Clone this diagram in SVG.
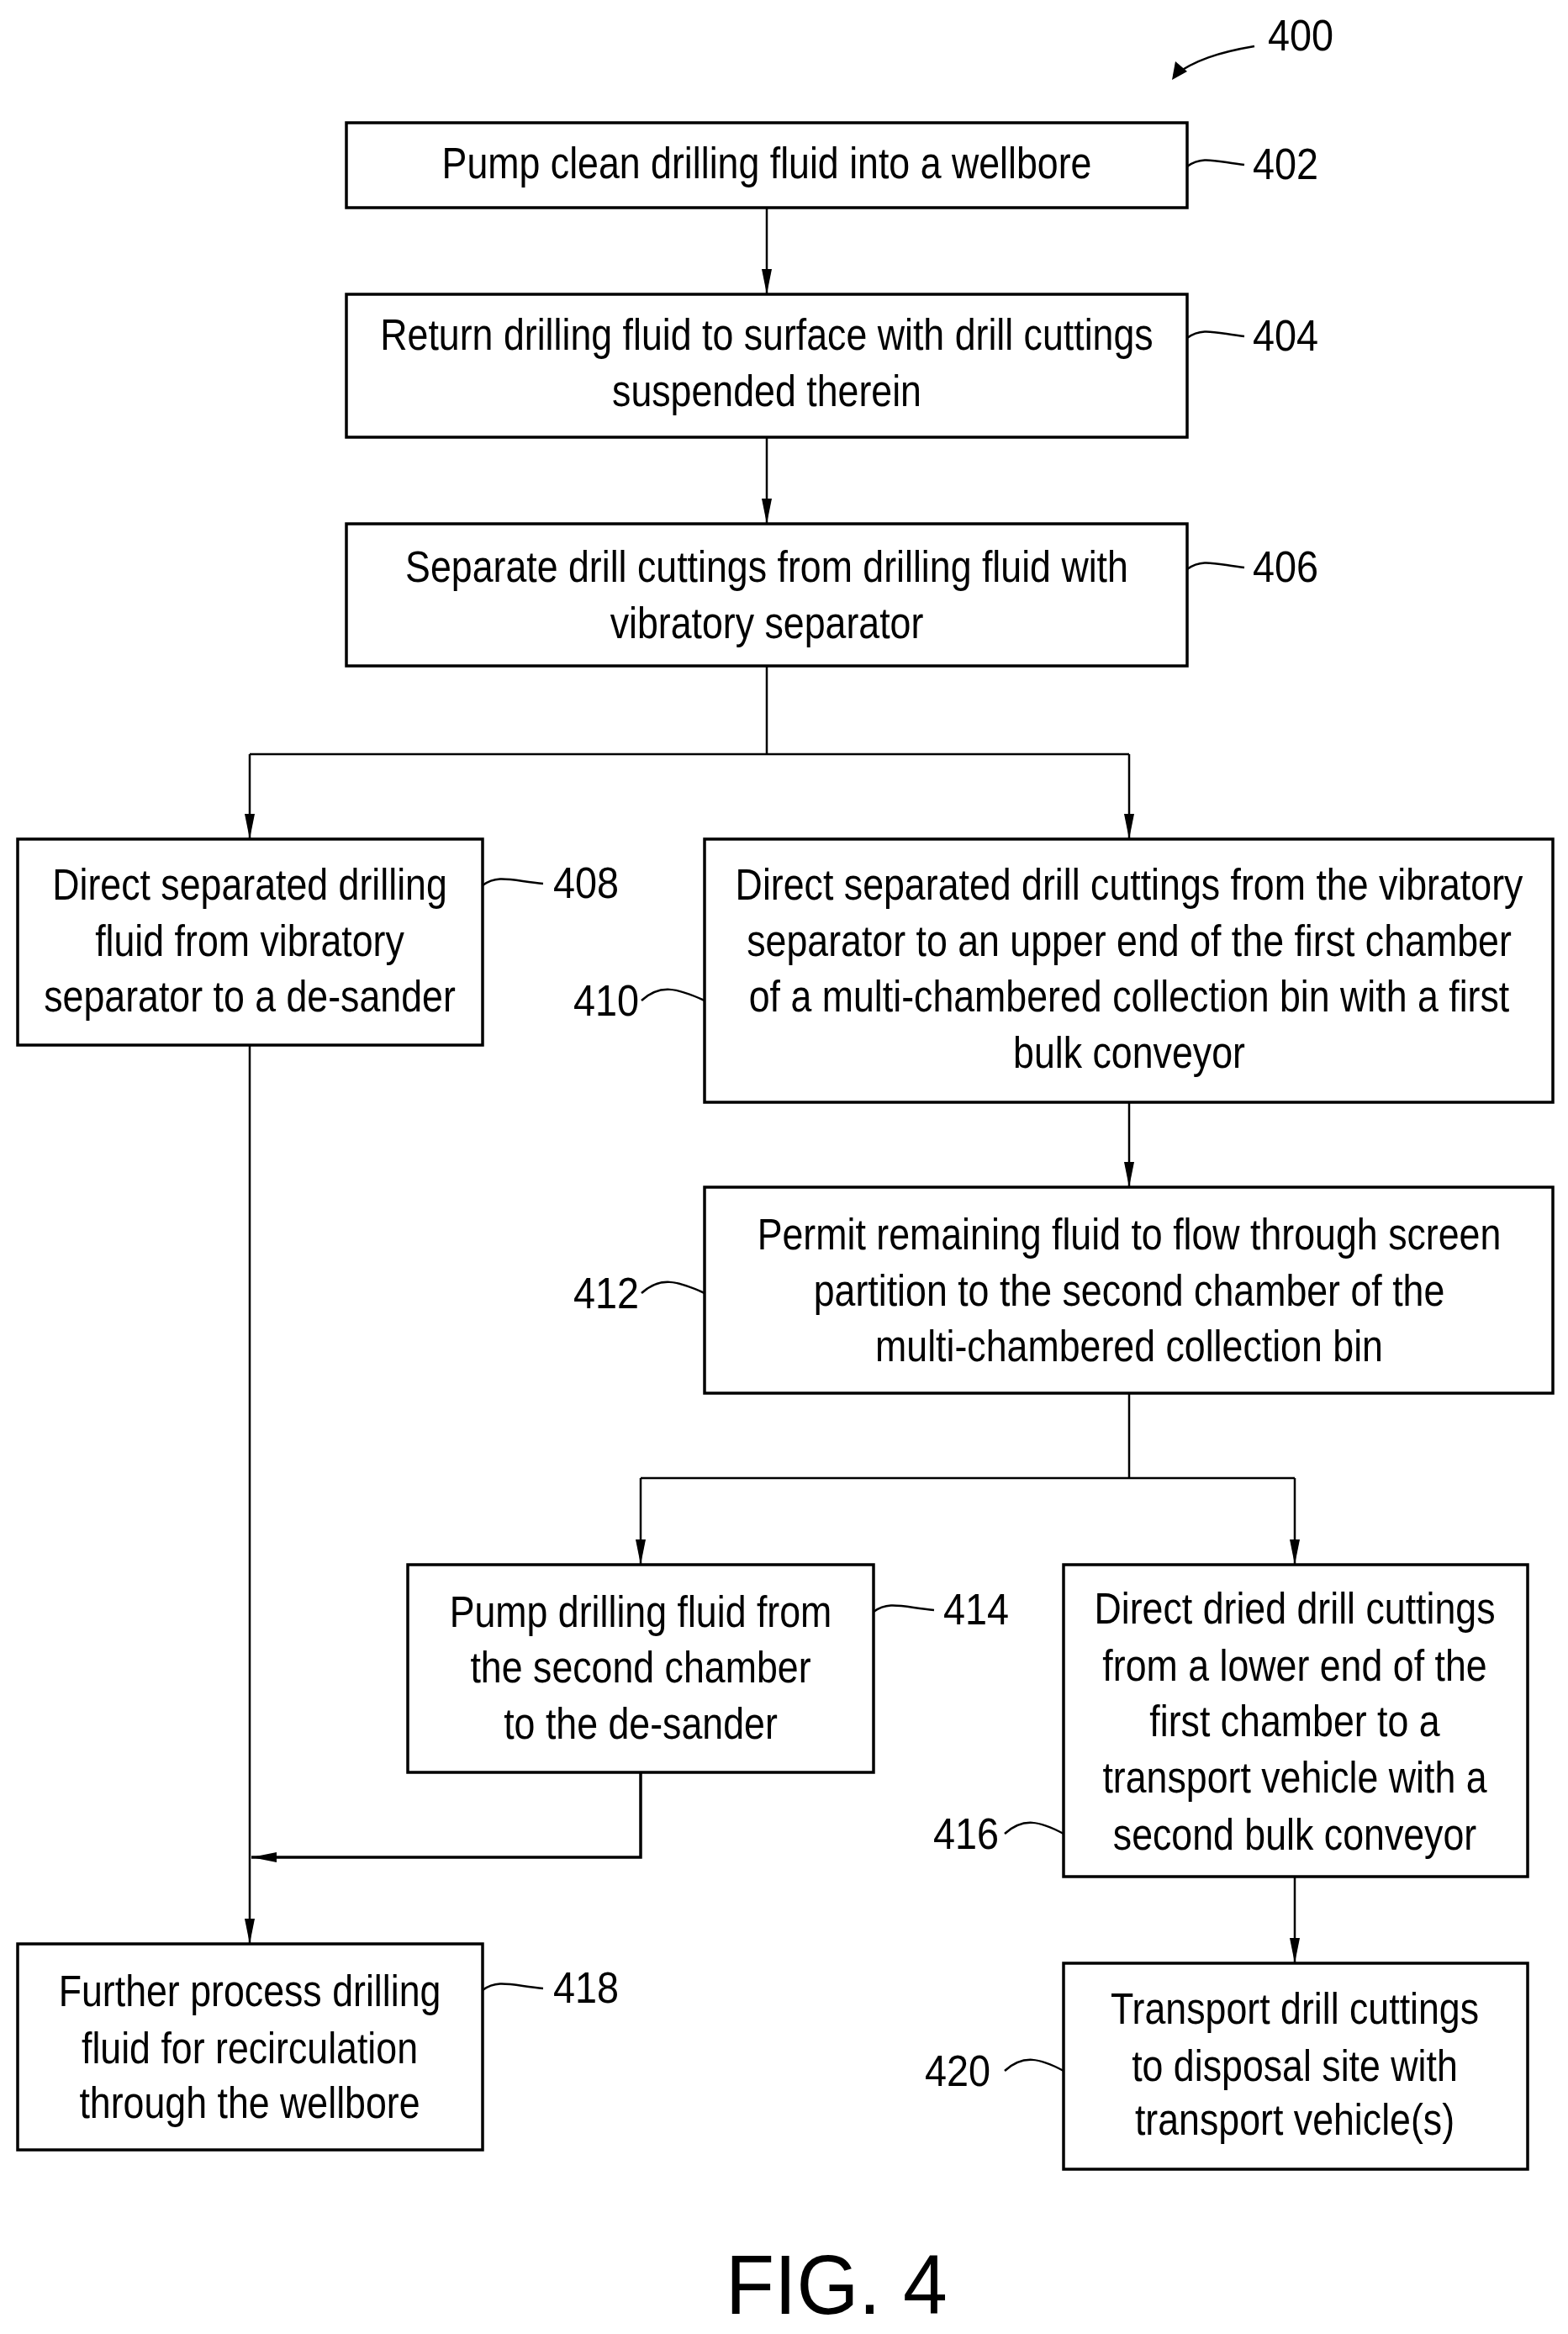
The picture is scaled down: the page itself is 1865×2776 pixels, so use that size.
<svg xmlns="http://www.w3.org/2000/svg" width="1865" height="2776" viewBox="0 0 1865 2776">
<style>
rect{fill:#fff;stroke:#000;stroke-width:3.5}
.c{fill:none;stroke:#000;stroke-width:2.5}
.t{font-family:"Liberation Sans",Arial,sans-serif;font-size:52px;fill:#000;text-anchor:middle}
.l{font-family:"Liberation Sans",Arial,sans-serif;font-size:52px;fill:#000}
.s{fill:none;stroke:#000;stroke-width:2.5}
</style>
<defs>
<marker id="b" viewBox="0 0 30 12" refX="30" refY="6" markerWidth="30" markerHeight="12" orient="auto" markerUnits="userSpaceOnUse"><path d="M0,0 L30,6 L0,12 Z" fill="#000"/></marker>
</defs>
<g id="connectors">
<path class="c" d="M912,247 V350" marker-end="url(#b)"/>
<path class="c" d="M912,520 V623" marker-end="url(#b)"/>
<path class="c" d="M912,792 V897 M297,897 H1343"/>
<path class="c" d="M297,897 V998" marker-end="url(#b)"/>
<path class="c" d="M1343,897 V998" marker-end="url(#b)"/>
<path class="c" d="M1343,1311 V1412" marker-end="url(#b)"/>
<path class="c" d="M1343,1657 V1758 M762,1758 H1540"/>
<path class="c" d="M762,1758 V1861" marker-end="url(#b)"/>
<path class="c" d="M1540,1758 V1861" marker-end="url(#b)"/>
<path class="c" d="M762,2108 V2209 H299" marker-end="url(#b)" style="stroke-width:3.5"/>
<path class="c" d="M297,1243 V2312" marker-end="url(#b)"/>
<path class="c" d="M1540,2232 V2335" marker-end="url(#b)"/>
<path class="c" d="M1492,55 C1450,62 1420,72 1396,90"/>
<path d="M1394,95 L1398,73 L1412,85 Z" fill="#000"/>
</g>
<text class="l" transform="translate(1508,60) scale(0.9,1)">400</text>
<g id="n402">
<rect x="412" y="146" width="1000" height="101"/>
<text class="t" transform="translate(912,212) scale(0.86,1)">Pump clean drilling fluid into a wellbore</text>
<path class="s" d="M1412,198 C1430,185 1445,192 1480,196"/>
<text class="l" transform="translate(1490,213) scale(0.9,1)">402</text>
</g>
<g id="n404">
<rect x="412" y="350" width="1000" height="170"/>
<text class="t" transform="translate(912,416) scale(0.86,1)">Return drilling fluid to surface with drill cuttings</text>
<text class="t" transform="translate(912,483) scale(0.86,1)">suspended therein</text>
<path class="s" d="M1412,402 C1430,389 1445,396 1480,400"/>
<text class="l" transform="translate(1490,417) scale(0.9,1)">404</text>
</g>
<g id="n406">
<rect x="412" y="623" width="1000" height="169"/>
<text class="t" transform="translate(912,692) scale(0.86,1)">Separate drill cuttings from drilling fluid with</text>
<text class="t" transform="translate(912,759) scale(0.86,1)">vibratory separator</text>
<path class="s" d="M1412,677 C1430,664 1445,671 1480,675"/>
<text class="l" transform="translate(1490,692) scale(0.9,1)">406</text>
</g>
<g id="n408">
<rect x="21" y="998" width="553" height="245"/>
<text class="t" transform="translate(297,1070) scale(0.86,1)">Direct separated drilling</text>
<text class="t" transform="translate(297,1137) scale(0.86,1)">fluid from vibratory</text>
<text class="t" transform="translate(297,1203) scale(0.86,1)">separator to a de-sander</text>
<path class="s" d="M574,1053 C592,1040 607,1047 646,1051"/>
<text class="l" transform="translate(658,1068) scale(0.9,1)">408</text>
</g>
<g id="n410">
<rect x="838" y="998" width="1009" height="313"/>
<text class="t" transform="translate(1343,1070) scale(0.86,1)">Direct separated drill cuttings from the vibratory</text>
<text class="t" transform="translate(1343,1137) scale(0.86,1)">separator to an upper end of the first chamber</text>
<text class="t" transform="translate(1343,1203) scale(0.86,1)">of a multi-chambered collection bin with a first</text>
<text class="t" transform="translate(1343,1270) scale(0.86,1)">bulk conveyor</text>
<path class="s" d="M763,1190 C785,1170 805,1175 838,1190"/>
<text class="l" transform="translate(682,1208) scale(0.9,1)">410</text>
</g>
<g id="n412">
<rect x="838" y="1412" width="1009" height="245"/>
<text class="t" transform="translate(1343,1486) scale(0.86,1)">Permit remaining fluid to flow through screen</text>
<text class="t" transform="translate(1343,1553) scale(0.86,1)">partition to the second chamber of the</text>
<text class="t" transform="translate(1343,1619) scale(0.86,1)">multi-chambered collection bin</text>
<path class="s" d="M763,1538 C785,1518 805,1523 838,1538"/>
<text class="l" transform="translate(682,1556) scale(0.9,1)">412</text>
</g>
<g id="n414">
<rect x="485" y="1861" width="554" height="247"/>
<text class="t" transform="translate(762,1935) scale(0.86,1)">Pump drilling fluid from</text>
<text class="t" transform="translate(762,2001) scale(0.86,1)">the second chamber</text>
<text class="t" transform="translate(762,2068) scale(0.86,1)">to the de-sander</text>
<path class="s" d="M1039,1917 C1057,1904 1072,1911 1111,1915"/>
<text class="l" transform="translate(1122,1932) scale(0.9,1)">414</text>
</g>
<g id="n416">
<rect x="1265" y="1861" width="552" height="371"/>
<text class="t" transform="translate(1540,1931) scale(0.86,1)">Direct dried drill cuttings</text>
<text class="t" transform="translate(1540,1999) scale(0.86,1)">from a lower end of the</text>
<text class="t" transform="translate(1540,2065) scale(0.86,1)">first chamber to a</text>
<text class="t" transform="translate(1540,2132) scale(0.86,1)">transport vehicle with a</text>
<text class="t" transform="translate(1540,2200) scale(0.86,1)">second bulk conveyor</text>
<path class="s" d="M1195,2181 C1217,2161 1237,2166 1265,2181"/>
<text class="l" transform="translate(1110,2199) scale(0.9,1)">416</text>
</g>
<g id="n418">
<rect x="21" y="2312" width="553" height="245"/>
<text class="t" transform="translate(297,2386) scale(0.86,1)">Further process drilling</text>
<text class="t" transform="translate(297,2454) scale(0.86,1)">fluid for recirculation</text>
<text class="t" transform="translate(297,2519) scale(0.86,1)">through the wellbore</text>
<path class="s" d="M574,2367 C592,2354 607,2361 646,2365"/>
<text class="l" transform="translate(658,2382) scale(0.9,1)">418</text>
</g>
<g id="n420">
<rect x="1265" y="2335" width="552" height="245"/>
<text class="t" transform="translate(1540,2407) scale(0.86,1)">Transport drill cuttings</text>
<text class="t" transform="translate(1540,2475) scale(0.86,1)">to disposal site with</text>
<text class="t" transform="translate(1540,2539) scale(0.86,1)">transport vehicle(s)</text>
<path class="s" d="M1195,2463 C1217,2443 1237,2448 1265,2463"/>
<text class="l" transform="translate(1100,2481) scale(0.9,1)">420</text>
</g>
<text class="t" style="font-size:100px" transform="translate(995,2752) scale(0.95,1)">FIG. 4</text>
</svg>
